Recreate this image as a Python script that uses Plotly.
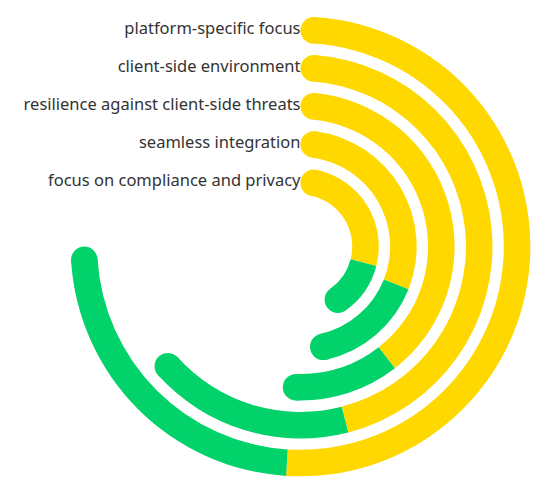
import math
import plotly.graph_objects as go

# rings from the inside out
categories = [
    "focus on compliance and privacy",
    "seamless integration",
    "resilience against client-side threats",
    "client-side environment",
    "platform-specific focus",
]
yellow_vals = [29, 31, 39.5, 46, 51]
green_vals = [14.5, 17.5, 12.5, 18.5, 24]

YELLOW = "#FFD800"
GREEN = "#02D26A"

ANGLE_MAX = 100          # full circle
DEG = 360 / ANGLE_MAX
PX = 37.9                # pixels per radial unit
OFFSET = 1.715           # radius of the first ring
THICK = 0.7              # ring thickness in radial units
R_MAX = 6.25
W, H = 552, 501
# page body has an 8px margin, so aim 8px up/left
CX, CY = 300.5 - 8, 246.5 - 8

fig = go.Figure()

cap_theta, cap_r, cap_col = [], [], []
for i, cat in enumerate(categories):
    r_mid = OFFSET + i
    cap = math.degrees((THICK / 2) / r_mid)
    y_end = yellow_vals[i] * DEG
    g_end = (yellow_vals[i] + green_vals[i]) * DEG
    segs = [(cap, y_end, YELLOW), (y_end, g_end - cap, GREEN)]
    for a0, a1, col in segs:
        fig.add_trace(go.Barpolar(
            r=[THICK], base=[r_mid - THICK / 2],
            theta=[(a0 + a1) / 2], width=[a1 - a0],
            marker=dict(color=col, line=dict(width=0)),
            hoverinfo="skip", showlegend=False))
    cap_theta += [cap, g_end - cap]
    cap_r += [r_mid, r_mid]
    cap_col += [YELLOW, GREEN]

# round caps at both ends of every ring
fig.add_trace(go.Scatterpolar(
    r=cap_r, theta=cap_theta, mode="markers",
    marker=dict(size=THICK * PX, color=cap_col, line=dict(width=0)),
    hoverinfo="skip", showlegend=False))

# category labels next to the ring starts
fig.add_trace(go.Scatterpolar(
    r=[OFFSET + i for i in range(len(categories))],
    theta=[0] * len(categories),
    mode="text", text=categories, textposition="middle left",
    textfont=dict(family="Noto Sans", size=16.5, color="#333333"),
    hoverinfo="skip", showlegend=False))

rad = R_MAX * PX
fig.update_layout(
    width=W, height=H,
    margin=dict(l=0, r=0, t=0, b=0),
    paper_bgcolor="white",
    polar=dict(
        domain=dict(x=[(CX - rad) / W, (CX + rad) / W],
                    y=[(H - CY - rad) / H, (H - CY + rad) / H]),
        bgcolor="white",
        barmode="overlay",
        radialaxis=dict(range=[0, R_MAX], visible=False),
        angularaxis=dict(rotation=90, direction="clockwise", visible=False),
    ),
)

fig.write_html("out.html")
